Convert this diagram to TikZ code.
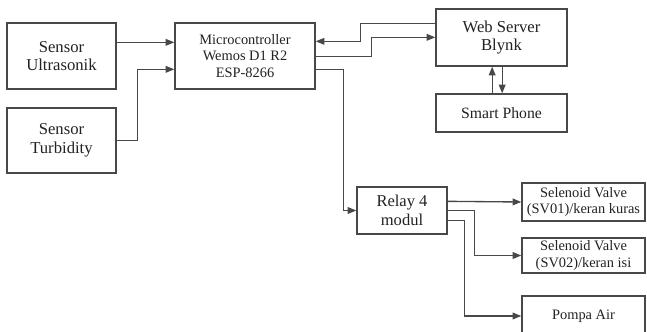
\documentclass[tikz,border=0pt]{standalone}
\usepackage{fontspec}
\setmainfont{LiberationSerif}[Extension=.ttf,UprightFont=*-Regular,BoldFont=*-Bold]
\usepackage{xcolor}
\usetikzlibrary{arrows.meta,positioning}
\definecolor{ln}{HTML}{484848}
\definecolor{ink}{HTML}{222222}
\tikzset{
  every node/.style={text=ink},
  blok/.style={draw=ln,line width=1pt,fill=white,align=center,inner sep=1pt,
               font=\rmfamily\fontsize{12.5}{14}\selectfont},
  kecil/.style={blok,font=\rmfamily\fontsize{10.8}{12.6}\selectfont},
  ar/.style={-{Triangle[length=6.5pt,width=5pt]},draw=ln,line width=1pt},
}

\begin{document}
\begin{tikzpicture}[x=0.75pt,y=-0.75pt]
\useasboundingbox (0,0) rectangle (647,332);
\clip (0,0) rectangle (647,332);

% sensor
\node[blok,minimum width=81.75pt,minimum height=49.5pt] (ultra) at (61.5,56) {Sensor\\Ultrasonik};
\node[blok,minimum width=81.75pt,minimum height=48.75pt] (turb) at (61.5,140.5) {Sensor\\Turbidity};

% kontroler dan server
\node[kecil,minimum width=105pt,minimum height=49.5pt] (micro) at (245,56) {Microcontroller\\Wemos D1 R2\\ESP-8266};
\node[blok,minimum width=98.25pt,minimum height=42.75pt] (web) at (501.5,37.5) {Web Server\\Blynk};
\node[blok,font=\rmfamily\fontsize{11.8}{14}\selectfont,minimum width=98.25pt,minimum height=28.5pt] (phone) at (501.5,113) {Smart Phone};

% aktuator
\node[blok,font=\rmfamily\fontsize{12.4}{14}\selectfont,minimum width=67.5pt,minimum height=35.25pt] (relay) at (402,210.5) {Relay 4\\modul};
\node[kecil,minimum width=92.25pt,minimum height=28.5pt] (sv1) at (583.5,202) {Selenoid Valve\\(SV01)/keran kuras};
\node[kecil,minimum width=92.25pt,minimum height=26.25pt] (sv2) at (583.5,255.5) {Selenoid Valve\\(SV02)/keran isi};
\node[kecil,minimum width=92.25pt,minimum height=30pt] (pompa) at (583.5,316) {Pompa Air};

% jalur
\draw[ar] ([yshift=-15pt]ultra.north east) -- ([yshift=-15pt]micro.north west);
\draw[ar] (turb.east) -- ++(21,0) |- ([yshift=-35.25pt]micro.north west);
\draw[ar] ([yshift=-11.25pt]web.north west) -- ++(-75,0) |- ([yshift=-14.25pt]micro.north east);
\draw[ar] ([yshift=-25.5pt]micro.north east) -- ++(56,0) |- ([yshift=-21.75pt]web.north west);
\draw[ar] ([yshift=-35.25pt]micro.north east) -- ++(28,0) |- (relay.west);
\draw[ar] ([xshift=-7pt]phone.north) -- ([xshift=-7pt]web.south);
\draw[ar] ([xshift=0.5pt]web.south) -- ([xshift=0.5pt]phone.north);
\draw[ar] ([yshift=-11.25pt]relay.north east) -- (sv1.west);
\draw[ar] (relay.east) -- ++(27,0) |- (sv2.west);
\draw[ar] ([yshift=-25.5pt]relay.north east) -- ++(17,0) |- (pompa.west);
\end{tikzpicture}
\end{document}
